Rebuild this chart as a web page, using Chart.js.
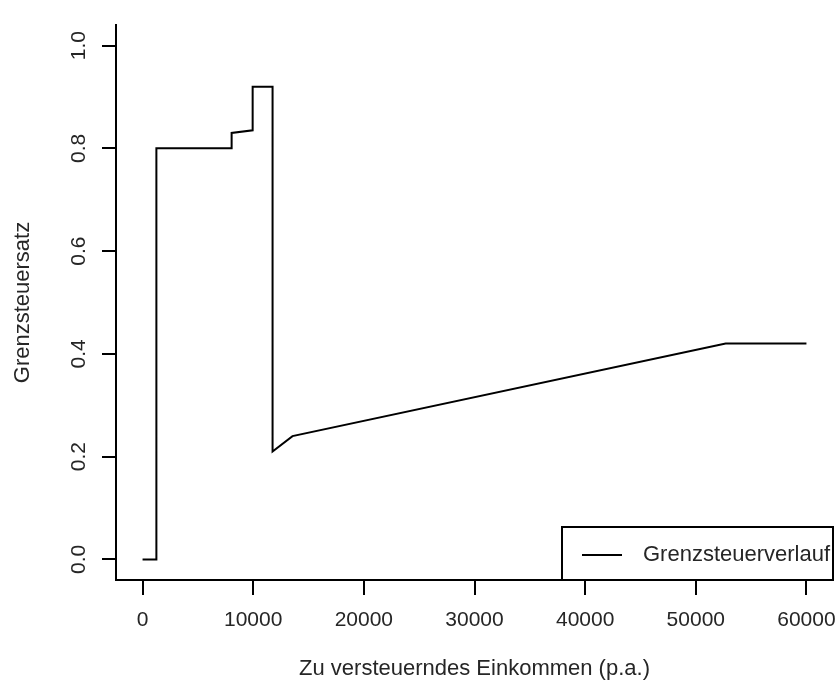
<!DOCTYPE html>
<html>
<head>
<meta charset="utf-8">
<script src="https://cdn.jsdelivr.net/npm/chart.js@4/dist/chart.umd.min.js"></script>
<style>
  body { margin: 0; background: #fff; }
  canvas { display: block; }
</style>
</head>
<body>
<canvas id="chart" width="836" height="682"></canvas>
<script>
// Grenzsteuerverlauf
const incomes = [0, 1250, 1250, 8050, 8050, 9950, 9950, 11750, 11750, 13550, 52700, 60000];
const rates = [0, 0, 0.80, 0.80, 0.83, 0.835, 0.92, 0.92, 0.21, 0.24, 0.42, 0.42];
const xTicks = [0, 10000, 20000, 30000, 40000, 50000, 60000];
const yTicks = [0, 0.2, 0.4, 0.6, 0.8, 1.0];
const seriesName = "Grenzsteuerverlauf";

const textColor = "#262626";
const font = "Liberation Sans, Arial, sans-serif";

// y tick labels are rotated like in R, so they are drawn here
const rotatedYLabels = {
  id: "rotatedYLabels",
  afterDraw(chart) {
    const ctx = chart.ctx;
    const y = chart.scales.y;
    ctx.save();
    ctx.fillStyle = textColor;
    ctx.font = "21px " + font;
    ctx.textAlign = "center";
    ctx.textBaseline = "middle";
    yTicks.forEach(v => {
      ctx.save();
      ctx.translate(79, y.getPixelForValue(v));
      ctx.rotate(-Math.PI / 2);
      ctx.fillText(v.toFixed(1), 0, 0);
      ctx.restore();
    });
    ctx.restore();
  }
};

// legend box in the bottom right corner of the plot
const boxLegend = {
  id: "boxLegend",
  afterDraw(chart) {
    const ctx = chart.ctx;
    const area = chart.chartArea;
    const w = 271, h = 53;
    const x0 = area.right - w, y0 = area.bottom - h;
    ctx.save();
    ctx.fillStyle = "#fff";
    ctx.fillRect(x0, y0, w, h);
    ctx.strokeStyle = "#000";
    ctx.lineWidth = 2;
    ctx.strokeRect(x0, y0, w, h);
    ctx.beginPath();
    ctx.rect(x0, y0, w - 1, h);
    ctx.clip();
    ctx.beginPath();
    ctx.moveTo(x0 + 20, y0 + 28);
    ctx.lineTo(x0 + 60, y0 + 28);
    ctx.stroke();
    ctx.fillStyle = textColor;
    ctx.font = "22px " + font;
    ctx.textBaseline = "middle";
    ctx.fillText(chart.data.datasets[0].label, x0 + 81, y0 + 28);
    ctx.restore();
  }
};

new Chart(document.getElementById("chart"), {
  type: "scatter",
  data: {
    datasets: [{
      label: seriesName,
      data: incomes.map((x, i) => ({ x: x, y: rates[i] })),
      showLine: true,
      borderColor: "#000",
      borderWidth: 2,
      pointRadius: 0,
      tension: 0
    }]
  },
  options: {
    responsive: false,
    animation: false,
    layout: { padding: { top: 25, right: 3, left: 0, bottom: 0 } },
    plugins: {
      legend: { display: false },
      tooltip: { enabled: false }
    },
    scales: {
      x: {
        type: "linear",
        min: -2400,
        max: 62400,
        afterBuildTicks: s => { s.ticks = xTicks.map(v => ({ value: v })); },
        afterFit: s => { s.height = 102; s.paddingLeft = 0; s.paddingRight = 0; },
        grid: { drawOnChartArea: false, drawTicks: true, tickLength: 15, color: "#000", lineWidth: 2 },
        border: { color: "#000", width: 2 },
        ticks: {
          color: textColor,
          font: { family: font, size: 21 },
          padding: 13,
          maxRotation: 0,
          callback: v => String(v)
        },
        title: {
          display: true,
          text: "Zu versteuerndes Einkommen (p.a.)",
          color: textColor,
          font: { family: font, size: 22 },
          padding: { top: 0, bottom: 0 }
        }
      },
      y: {
        type: "linear",
        min: -0.04,
        max: 1.04,
        afterBuildTicks: s => { s.ticks = yTicks.map(v => ({ value: v })); },
        afterFit: s => { s.width = 116; },
        grid: { drawOnChartArea: false, drawTicks: true, tickLength: 14, color: "#000", lineWidth: 2 },
        border: { color: "#000", width: 2 },
        ticks: { display: false },
        title: {
          display: true,
          text: "Grenzsteuersatz",
          color: textColor,
          font: { family: font, size: 22 },
          padding: { top: 10, bottom: 0 }
        }
      }
    }
  },
  plugins: [rotatedYLabels, boxLegend]
});
</script>
</body>
</html>
